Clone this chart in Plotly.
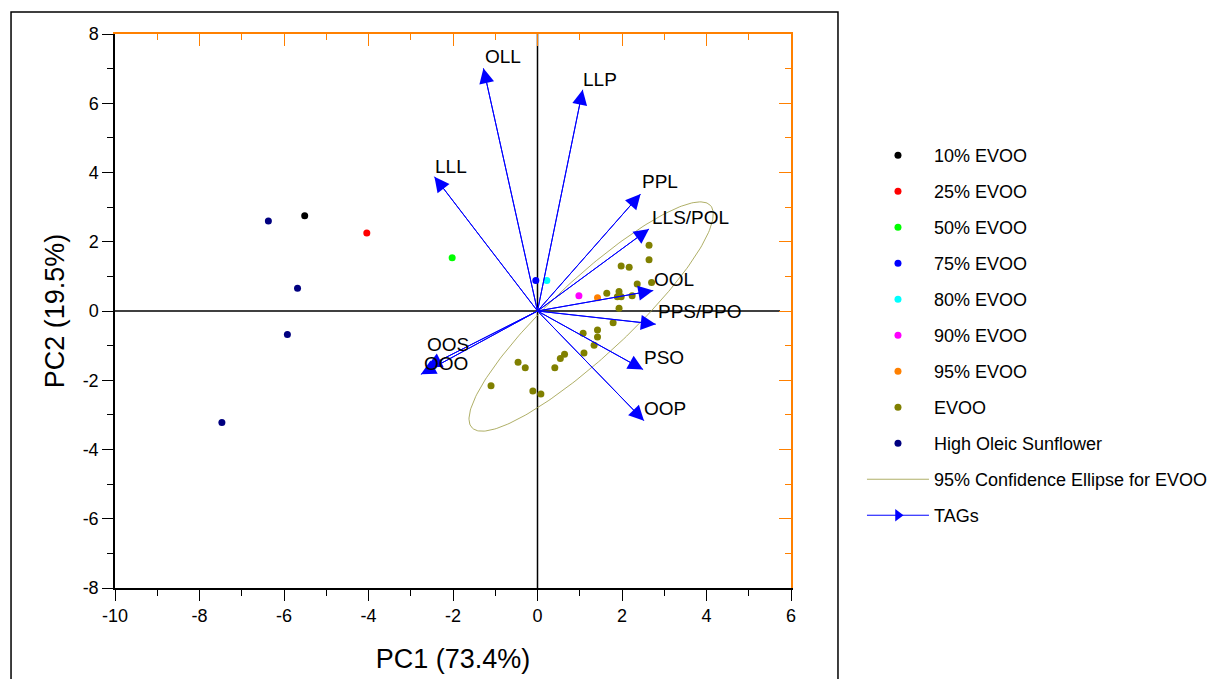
import numpy as np
import plotly.graph_objects as go

# ---------------- data ----------------
g10_x, g10_y = [-5.51], [2.75]
g25_x, g25_y = [-4.04], [2.25]
g50_x, g50_y = [-2.02], [1.54]
g75_x, g75_y = [-0.04], [0.88]
g80_x, g80_y = [0.22], [0.88]
g90_x, g90_y = [0.98], [0.44]
g95_x, g95_y = [1.42], [0.38]
evoo_x = [2.64, 2.64, 1.98, 2.17, 2.36, 2.70, 1.64, 1.93, 1.89, 1.98, 2.24, 1.93, 1.79,
          1.42, 1.08, 1.42, 1.34, 1.10, 0.64, 0.54, 0.41, -0.46, -0.29, -1.10, -0.11, 0.08]
evoo_y = [1.90, 1.48, 1.30, 1.26, 0.78, 0.82, 0.51, 0.56, 0.41, 0.41, 0.44, 0.08, -0.34,
          -0.55, -0.64, -0.75, -0.99, -1.21, -1.25, -1.37, -1.64, -1.48, -1.64, -2.16, -2.31, -2.40]
hos_x = [-6.37, -5.68, -5.92, -7.47]
hos_y = [2.60, 0.66, -0.68, -3.22]

tag_names = ["OLL", "LLP", "LLL", "PPL", "LLS/POL", "OOL", "PPS/PPO", "PSO", "OOP", "OOS", "OOO"]
tag_x = [-1.28, 1.07, -2.44, 2.44, 2.64, 2.74, 2.80, 2.50, 2.52, -2.62, -2.76]
tag_y = [7.01, 6.39, 3.88, 3.38, 2.37, 0.59, -0.38, -1.69, -3.17, -1.62, -1.83]
tag_label_x = [-0.82, 1.48, -2.05, 2.90, 3.61, 3.23, 3.84, 3.00, 3.02, -2.12, -2.17]
tag_label_y = [7.34, 6.68, 4.16, 3.73, 2.69, 0.92, 0.00, -1.33, -2.83, -0.96, -1.52]

# 95% confidence ellipse (centre and conjugate semi-diameters, data units)
ell_center = (1.27, -0.16)
ell_axis1 = (2.824, 3.208)
ell_axis2 = (-0.62, 0.82)

x_ticks = [-10, -8, -6, -4, -2, 0, 2, 4, 6]
x_tick_labels = ["-10", "-8", "-6", "-4", "-2", "0", "2", "4", "6"]
y_ticks = [-8, -6, -4, -2, 0, 2, 4, 6, 8]
y_tick_labels = ["-8", "-6", "-4", "-2", "0", "2", "4", "6", "8"]

FONT = "Liberation Sans, Arial, sans-serif"
ORANGE = "#FF8000"

t = np.linspace(0, 2 * np.pi, 241)
ell_x = ell_center[0] + np.cos(t) * ell_axis1[0] + np.sin(t) * ell_axis2[0]
ell_y = ell_center[1] + np.cos(t) * ell_axis1[1] + np.sin(t) * ell_axis2[1]

fig = go.Figure()

groups = [
    ("10% EVOO", g10_x, g10_y, "#000000"),
    ("25% EVOO", g25_x, g25_y, "#FF0000"),
    ("50% EVOO", g50_x, g50_y, "#00FF00"),
    ("75% EVOO", g75_x, g75_y, "#0000FF"),
    ("80% EVOO", g80_x, g80_y, "#00FFFF"),
    ("90% EVOO", g90_x, g90_y, "#FF00FF"),
    ("95% EVOO", g95_x, g95_y, "#FF8000"),
    ("EVOO", evoo_x, evoo_y, "#808000"),
    ("High Oleic Sunflower", hos_x, hos_y, "#000080"),
]
for i, (name, xs, ys, col) in enumerate(groups):
    fig.add_trace(go.Scatter(x=xs, y=ys, mode="markers", name=name, legendgroup=f"g{i}",
                             marker=dict(color=col, size=7, line=dict(width=0))))

fig.add_trace(go.Scatter(x=ell_x, y=ell_y, mode="lines", name="95% Confidence Ellipse for EVOO",
                         legendgroup="ell", line=dict(color="#9A9A40", width=0.8)))

# TAG loading lines (arrowheads drawn through annotations on the same data)
lx, ly = [], []
for xx, yy in zip(tag_x, tag_y):
    lx += [0, xx, None]
    ly += [0, yy, None]
fig.add_trace(go.Scatter(x=lx, y=ly, mode="lines", name="TAGs", legendgroup="tags",
                         showlegend=False, line=dict(color="#0000FF", width=1)))
# legend entry for TAGs (line with arrow marker)
fig.add_trace(go.Scatter(x=[None], y=[None], mode="lines+markers", name="TAGs", legendgroup="tags",
                         line=dict(color="#0000FF", width=1),
                         marker=dict(symbol="triangle-right", size=11, color="#0000FF")))
# keep the secondary (frame) axes active
fig.add_trace(go.Scatter(x=[None], y=[None], xaxis="x2", yaxis="y2", showlegend=False,
                         hoverinfo="skip"))

annotations = []
for xx, yy in zip(tag_x, tag_y):
    annotations.append(dict(x=xx, y=yy, ax=0, ay=0, axref="x", ayref="y", xref="x", yref="y",
                            text="", showarrow=True, arrowhead=2, arrowsize=3, arrowwidth=1,
                            arrowcolor="#0000FF"))
for name, xx, yy in zip(tag_names, tag_label_x, tag_label_y):
    annotations.append(dict(x=xx, y=yy, xref="x", yref="y", text=name, showarrow=False,
                            font=dict(family=FONT, size=19, color="black")))

shapes = [
    dict(type="line", xref="x", yref="y", x0=-10, x1=5.74, y0=0, y1=0,
         line=dict(color="black", width=1.5), layer="below"),
    dict(type="line", xref="x", yref="y", x0=0, x1=0, y0=-8, y1=8,
         line=dict(color="black", width=1.5), layer="below"),
    dict(type="rect", xref="paper", yref="paper", x0=-0.1538, x1=1.0695, y0=-0.25, y1=1.0397,
         line=dict(color="black", width=1.5)),
]

axis_common = dict(showgrid=False, zeroline=False, showline=True, linewidth=1.5)

fig.update_layout(
    width=1221, height=679,
    margin=dict(l=115, r=430, t=34, b=91, autoexpand=False),
    paper_bgcolor="white", plot_bgcolor="white",
    font=dict(family=FONT, color="black"),
    xaxis=dict(range=[-10, 6], tickvals=x_ticks, ticktext=x_tick_labels, ticks="outside",
               ticklen=11, tickwidth=1.3, tickcolor="black", linecolor="black",
               tickfont=dict(size=18),
               minor=dict(dtick=1, tick0=0, ticks="outside", ticklen=6, tickwidth=1.3, tickcolor="black"),
               title=dict(text="PC1 (73.4%)", font=dict(size=27), standoff=24), **axis_common),
    yaxis=dict(range=[-8, 8], tickvals=y_ticks, ticktext=y_tick_labels, ticks="outside",
               ticklen=11, tickwidth=1.3, tickcolor="black", linecolor="black",
               tickfont=dict(size=18),
               minor=dict(dtick=1, tick0=0, ticks="outside", ticklen=6, tickwidth=1.3, tickcolor="black"),
               title=dict(text="PC2 (19.5%)", font=dict(size=27), standoff=10), **axis_common),
    xaxis2=dict(range=[-10, 6], overlaying="x", side="top", anchor="y", tickvals=x_ticks,
                ticks="inside", ticklen=12, tickwidth=1.3, tickcolor=ORANGE, linecolor=ORANGE,
                showticklabels=False,
                minor=dict(dtick=1, tick0=0, ticks="inside", ticklen=6, tickwidth=1.3, tickcolor=ORANGE),
                **axis_common),
    yaxis2=dict(range=[-8, 8], overlaying="y", side="right", anchor="x", tickvals=y_ticks,
                ticks="inside", ticklen=12, tickwidth=1.3, tickcolor=ORANGE, linecolor=ORANGE,
                showticklabels=False,
                minor=dict(dtick=1, tick0=0, ticks="inside", ticklen=6, tickwidth=1.3, tickcolor=ORANGE),
                **axis_common),
    legend=dict(x=1.105, y=0.814, xanchor="left", yanchor="top", font=dict(size=18),
                tracegroupgap=9.6, itemwidth=62, bgcolor="rgba(0,0,0,0)"),
    annotations=annotations,
    shapes=shapes,
    showlegend=True,
)

fig.write_html("out.html")
